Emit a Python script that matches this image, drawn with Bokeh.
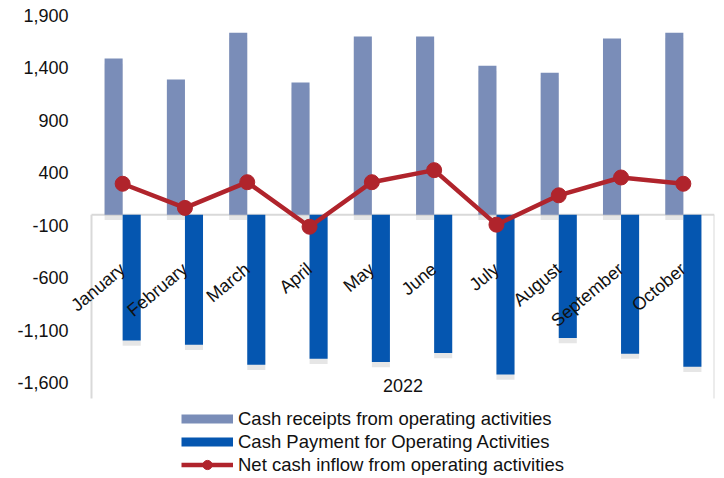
import math
from bokeh.plotting import figure
from bokeh.models import (ColumnDataSource, Range1d, FixedTicker,
                          NumeralTickFormatter, Legend, LegendItem, Label, LabelSet)
from bokeh.transform import dodge
from bokeh.core.properties import value
from bokeh.embed import file_html
from bokeh.resources import INLINE

# ---- data ----
months = ["January", "February", "March", "April", "May", "June",
          "July", "August", "September", "October"]
receipts = [1490, 1290, 1735, 1260, 1700, 1700, 1420, 1355, 1680, 1735]
payments = [-1200, -1240, -1430, -1375, -1405, -1320, -1525, -1175, -1325, -1450]
net_inflow = [295, 65, 310, -115, 310, 425, -95, 185, 355, 295]
y_ticks = [-1600, -1100, -600, -100, 400, 900, 1400, 1900]
year_label = "2022"
series_names = ["Cash receipts from operating activities",
                "Cash Payment for Operating Activities",
                "Net cash inflow from operating activities"]

# ---- styles ----
REC_COLOR = "#7A8DB8"
PAY_COLOR = "#0556B0"
NET_COLOR = "#B0242C"
FRAME_COLOR = "#D9D9D9"
SHADOW_COLOR = "#B8B8B8"
TEXT_COLOR = "#111111"
FONT = "Liberation Sans"
Y_START, Y_END = -2516, 2043
FRAME_BOTTOM = -1753
SHADOW = 50
n = len(months)
X_START, X_END = -0.9976, n - 0.5   # extra room on the left for rotated labels

source = ColumnDataSource(dict(
    month=months,
    x_pos=list(range(n)),
    receipts=receipts,
    payments=payments,
    net=net_inflow,
    rec_sh_top=[r - SHADOW for r in receipts],
    pay_sh_top=[q - SHADOW for q in payments],
))

p = figure(width=724, height=478,
           x_range=Range1d(X_START, X_END),
           y_range=Range1d(Y_START, Y_END),
           output_backend="svg", toolbar_location=None,
           min_border_left=60, min_border_right=10,
           min_border_top=0, min_border_bottom=0)

p.xaxis.visible = False
p.xgrid.visible = False
p.ygrid.visible = False
p.outline_line_color = None
p.background_fill_color = "white"
p.border_fill_color = "white"

yax = p.yaxis[0]
yax.ticker = FixedTicker(ticks=y_ticks)
yax.formatter = NumeralTickFormatter(format="0,0")
yax.axis_line_color = None
yax.major_tick_line_color = None
yax.minor_tick_line_color = None
yax.major_label_text_font = FONT
yax.major_label_text_font_size = "18px"
yax.major_label_text_color = TEXT_COLOR
yax.major_label_standoff = -14

# zero line and partial frame of the category area
edges = [-0.5, n - 0.5]
p.segment(x0=[edges[0], edges[0], edges[1]], x1=[edges[1], edges[0], edges[1]],
          y0=[0, 0, 0], y1=[0, FRAME_BOTTOM, FRAME_BOTTOM],
          line_color=FRAME_COLOR, line_width=2, level="underlay")

# shadows
p.vbar(x=dodge("x_pos", -0.145), top="rec_sh_top", bottom=-SHADOW,
       width=0.29, source=source, fill_color=SHADOW_COLOR, fill_alpha=0.35, line_color=None)
p.vbar(x=dodge("x_pos", 0.145), top="pay_sh_top", bottom=-SHADOW,
       width=0.29, source=source, fill_color=SHADOW_COLOR, fill_alpha=0.35, line_color=None)

# bars
p.vbar(x=dodge("x_pos", -0.145), top="receipts", bottom=0,
       width=0.29, source=source, fill_color=REC_COLOR, line_color=None)
p.vbar(x=dodge("x_pos", 0.145), top="payments", bottom=0,
       width=0.29, source=source, fill_color=PAY_COLOR, line_color=None)

# month labels (category axis at zero)
p.add_layout(LabelSet(x="x_pos", y=-495, text="month", source=source,
                      angle=math.radians(40), text_align="right", text_baseline="middle",
                      text_font=value(FONT), text_font_size=value("18px"),
                      text_color=value(TEXT_COLOR)))

# net line
p.line(x="x_pos", y="net", source=source, line_color=NET_COLOR, line_width=4.5)
p.scatter(x="x_pos", y="net", source=source, size=15, fill_color=NET_COLOR,
          line_color=NET_COLOR)

# year label
p.add_layout(Label(x=(n - 1) / 2, y=-1630, text=year_label, text_align="center",
                   text_baseline="middle", text_font=FONT, text_font_size="18px",
                   text_color=TEXT_COLOR))

# legend proxies (hidden renderers, only used for legend swatches)
leg_rec = p.line(x="x_pos", y="receipts", source=source, line_color=REC_COLOR,
                 line_width=9, visible=False)
leg_pay = p.line(x="x_pos", y="payments", source=source, line_color=PAY_COLOR,
                 line_width=9, visible=False)
leg_net_l = p.line(x="x_pos", y="net", source=source, line_color=NET_COLOR,
                   line_width=4.5, visible=False)
leg_net_m = p.scatter(x="x_pos", y="net", source=source, fill_color=NET_COLOR,
                      line_color=NET_COLOR, visible=False)

legend = Legend(items=[
    LegendItem(label=series_names[0], renderers=[leg_rec]),
    LegendItem(label=series_names[1], renderers=[leg_pay]),
    LegendItem(label=series_names[2], renderers=[leg_net_l, leg_net_m]),
], location=(121, 2), orientation="vertical",
    glyph_width=52, glyph_height=23, label_height=23, spacing=0,
    padding=0, margin=0, label_standoff=5,
    border_line_color=None, background_fill_alpha=0,
    label_text_font=FONT, label_text_font_size="18.5px",
    label_text_color=TEXT_COLOR)
p.add_layout(legend)

open("out.html", "w").write(file_html(p, INLINE))
